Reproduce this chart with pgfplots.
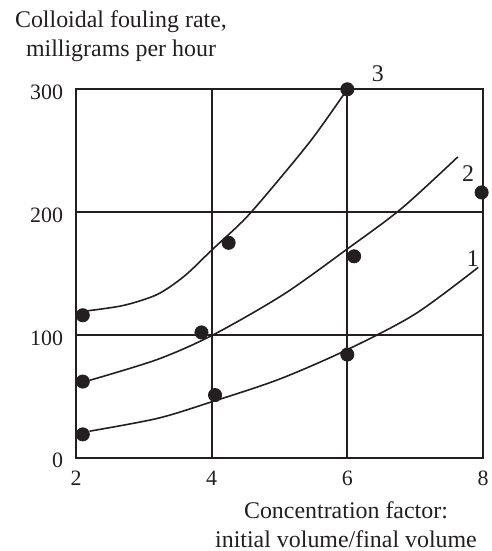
\documentclass[border=0pt]{standalone}
\usepackage{pgfplots}
\pgfplotsset{compat=1.18}
\usepackage{fontspec}
\setmainfont{Liberation Serif}
\definecolor{ink}{RGB}{35,31,32}
\begin{document}
\begin{tikzpicture}
\path[use as bounding box] (-38bp,-46.65bp) rectangle (208bp,228.85bp);
\begin{axis}[
  scale only axis,
  width=203.5bp, height=184.2bp,
  xmin=2, xmax=8, ymin=0, ymax=300,
  xtick={2,4,6,8}, ytick={0,100,200,300},
  major tick length=0pt,
  grid=major,
  grid style={ink, line width=0.9pt},
  axis line style={ink, line width=0.9pt},
  clip=false,
  /pgf/number format/assume math mode=true,
  tick label style={font=\fontsize{11}{13}\selectfont, text=ink},
  yticklabel style={xshift=-3bp, yshift=-1.5bp},
  xticklabel style={yshift=-3bp},
]
% curves
\addplot[ink, line width=0.8pt, smooth, no marks] coordinates {
 (2.2,21.6) (3.2,32) (4,45.5) (5,64) (6,88) (7,117) (7.93,155)};
\addplot[ink, line width=0.8pt, smooth, no marks] coordinates {
 (2.2,63) (3.2,80) (4.02,100) (5.06,133) (6,170) (6.8,203) (7.63,245)};
\addplot[ink, line width=0.8pt, smooth, no marks] coordinates {
 (2.15,119.5) (2.7,124) (3.2,133) (3.6,148) (4,169) (4.5,195) (5,227) (5.5,261) (6,300)};
% data points
\addplot[only marks, mark=*, mark size=3.3bp, ink, mark options={fill=ink}] coordinates {
 (2.10,19) (4.05,51) (6.0,84)};
\addplot[only marks, mark=*, mark size=3.3bp, ink, mark options={fill=ink}] coordinates {
 (2.10,62) (3.85,102) (6.10,164) (7.98,216)};
\addplot[only marks, mark=*, mark size=3.3bp, ink, mark options={fill=ink}] coordinates {
 (2.10,116) (4.25,175) (6.0,300)};
\node[text=ink, font=\fontsize{12}{14}\selectfont] at (axis cs:6.45,313) {3};
\node[text=ink, font=\fontsize{12}{14}\selectfont] at (axis cs:7.78,231) {2};
\node[text=ink, font=\fontsize{12}{14}\selectfont] at (axis cs:7.85,162) {1};
\end{axis}
\node[text=ink, align=center, font=\fontsize{12}{14.5}\selectfont] at (22.5bp,210.85bp) {Colloidal fouling rate,\\milligrams per hour};
\node[text=ink, align=center, font=\fontsize{12}{14.5}\selectfont] at (135bp,-33.65bp) {Concentration factor:\\initial volume/final volume};
\end{tikzpicture}
\end{document}
